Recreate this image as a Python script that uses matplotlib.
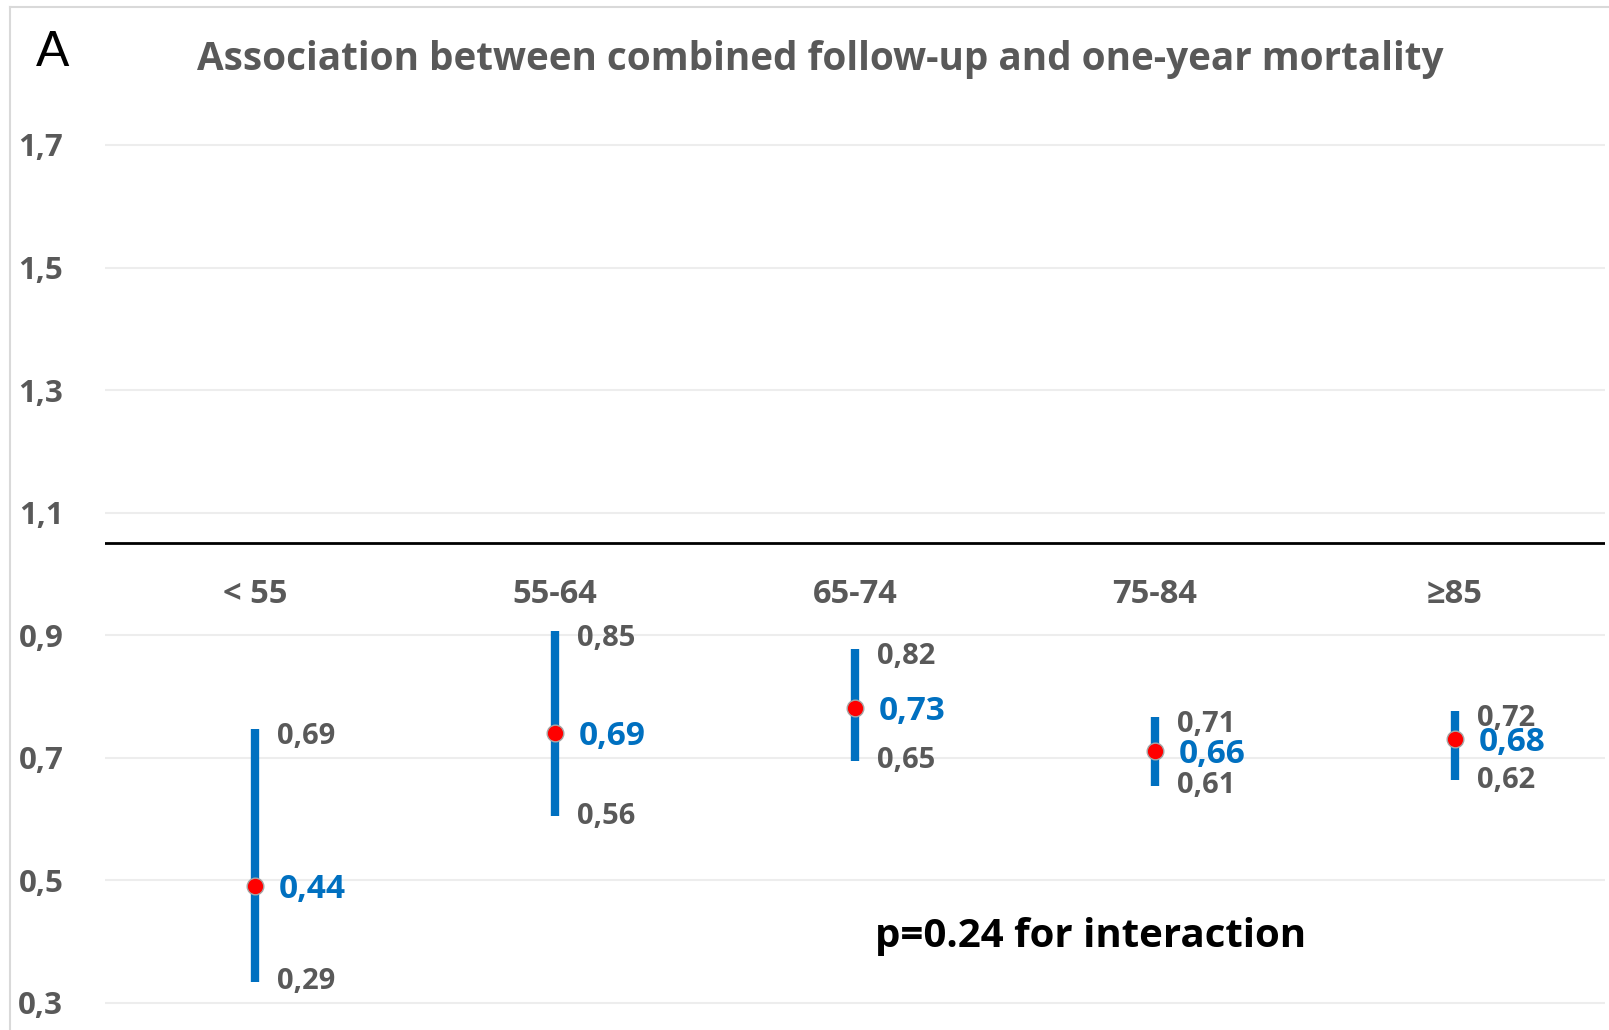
import numpy as np
import matplotlib
matplotlib.use('Agg')
import matplotlib.pyplot as plt
from matplotlib.lines import Line2D

# age groups and the hazard ratios (labels) with 95% CI
groups = ['< 55', '55-64', '65-74', '75-84', '≥85']
hr_lab = ['0,44', '0,69', '0,73', '0,66', '0,68']
lo_lab = ['0,29', '0,56', '0,65', '0,61', '0,62']
hi_lab = ['0,69', '0,85', '0,82', '0,71', '0,72']
# where the marks sit on the chart's own axis
hr_pos = [0.490, 0.741, 0.781, 0.711, 0.730]
lo_pos = [0.334, 0.604, 0.695, 0.654, 0.663]
hi_pos = [0.746, 0.906, 0.877, 0.766, 0.776]
ref_line = 1.05
yticks = [0.3, 0.5, 0.7, 0.9, 1.1, 1.3, 1.5, 1.7]

grey = '#595959'
blue = '#0070C0'
font = 'Open Sans'

W, H = 1609, 1030
fig = plt.figure(figsize=(W / 100, H / 100), dpi=100)
ax = fig.add_axes([105 / W, 0, 1500 / W, 890 / H])

x = np.arange(len(groups))
ax.vlines(x, lo_pos, hi_pos, color=blue, lw=6, zorder=3)
ax.plot(x, hr_pos, 'o', mfc='red', mec='#A6A6A6', ms=12, mew=1, zorder=4)
ax.axhline(ref_line, color='black', lw=2, zorder=2)

for i in range(len(groups)):
    ax.annotate(hi_lab[i], (x[i], hi_pos[i]), xytext=(16, -5), textcoords='offset points',
                va='center', ha='left', fontsize=21, color=grey, weight='bold', family=font)
    ax.annotate(lo_lab[i], (x[i], lo_pos[i]), xytext=(16, 0), textcoords='offset points',
                va='center', ha='left', fontsize=21, color=grey, weight='bold', family=font)
    ax.annotate(hr_lab[i], (x[i], hr_pos[i]), xytext=(17, -2.5), textcoords='offset points',
                va='center', ha='left', fontsize=24, color=blue, weight='bold', family=font)
    ax.text(x[i], 0.967, groups[i], ha='center', va='center', fontsize=23.5,
            color=grey, weight='bold', family=font)

ax.text(2.067, 0.391, 'p=0.24 for interaction', ha='left', va='baseline',
        fontsize=29, color='black', weight='bold', family=font)

ax.set_xlim(-0.5, 4.5)
ax.set_ylim(0.3 - 27.3 / 613, 1.7 + 5 / 613)
ax.set_yticks(yticks)
ax.set_yticklabels([('%.1f' % v).replace('.', ',') for v in yticks])
ax.set_xticks([])
ax.tick_params(axis='y', length=0, pad=30, labelsize=22.5, labelcolor=grey)
for lab in ax.get_yticklabels():
    lab.set_fontweight('bold')
    lab.set_family(font)
ax.grid(axis='y', color='#EDEDED', lw=1.5, zorder=0)
ax.set_axisbelow(True)
for s in ax.spines.values():
    s.set_visible(False)

# titles
fig.text(820 / W, 1 - 70 / H, 'Association between combined follow-up and one-year mortality',
         ha='center', va='baseline', fontsize=27.8, color=grey, weight='bold', family=font)
fig.text(36 / W, 1 - 66 / H, 'A', ha='left', va='baseline', fontsize=36,
         color='black', family='Liberation Sans')

# chart border
fig.add_artist(Line2D([10 / W, 10 / W], [0, 1 - 7 / H], color='#D9D9D9', lw=1.5))
fig.add_artist(Line2D([10 / W, 1], [1 - 7 / H, 1 - 7 / H], color='#D9D9D9', lw=1.5))

fig.savefig('out.png', dpi=100)
